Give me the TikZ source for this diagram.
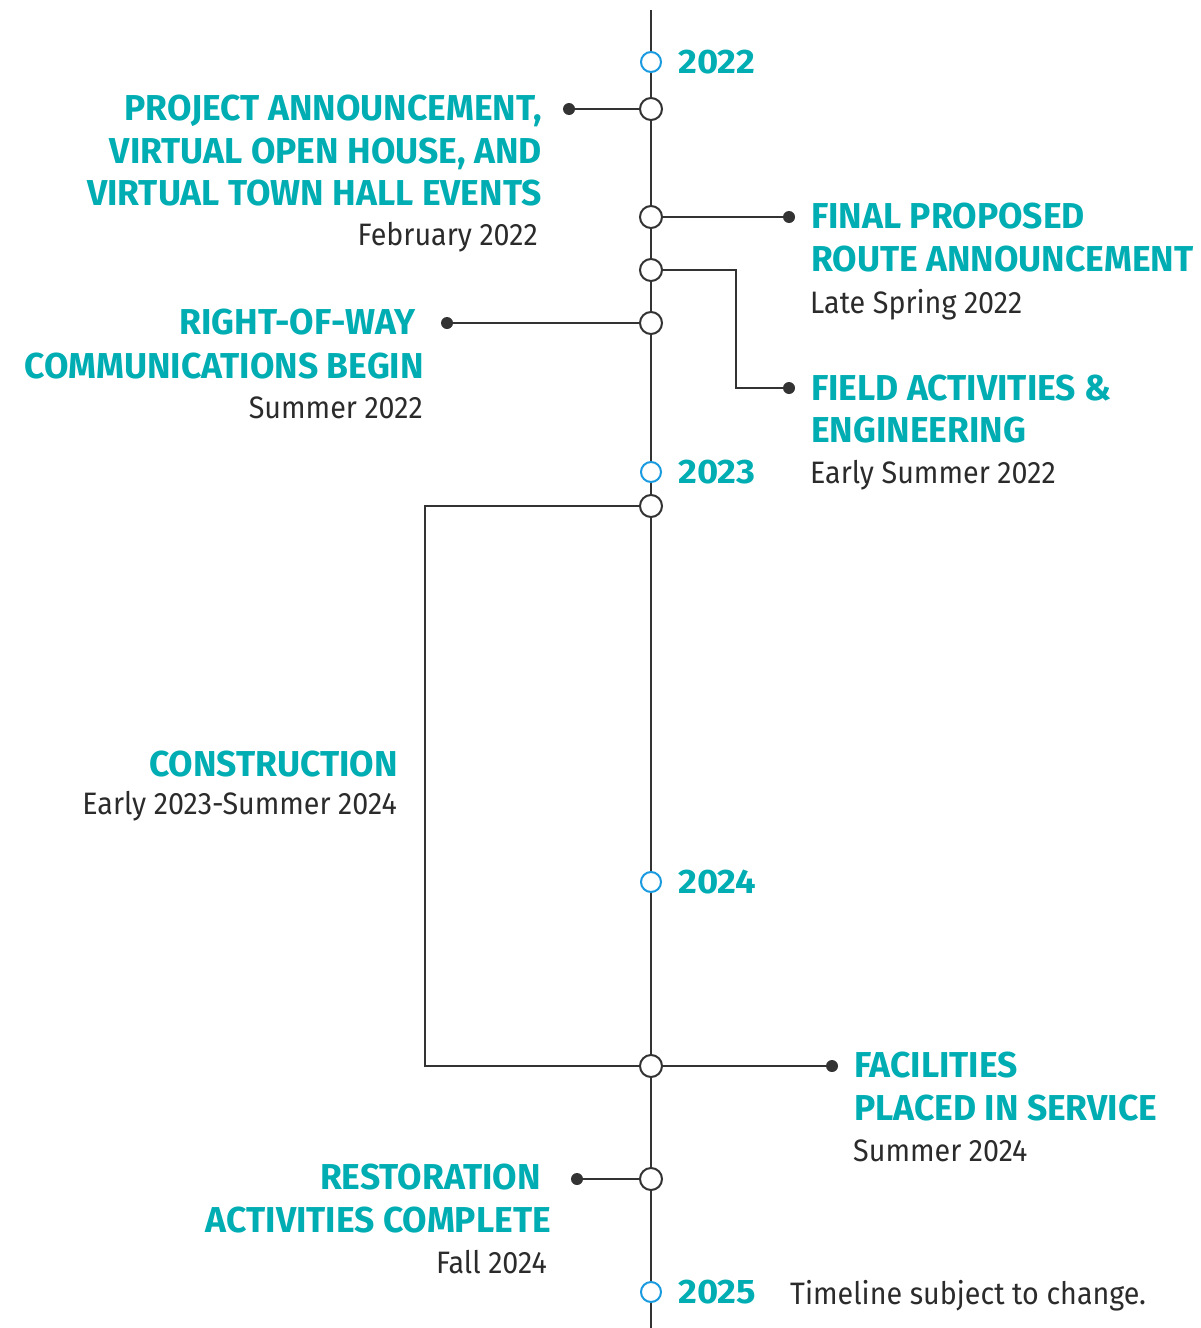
\documentclass[tikz,border=0pt]{standalone}
\usepackage{fontspec}
\setmainfont{Fira Sans}
\newfontfamily\headfont[FakeStretch=0.985]{Fira Sans Bold}
\newfontfamily\yearfont[FakeStretch=1.07]{Fira Sans Bold}
\newfontfamily\bodyfont[FakeStretch=0.925]{Fira Sans}
\definecolor{teal}{HTML}{00ADB2}
\definecolor{yearblue}{HTML}{1A9BE0}
\definecolor{linegrey}{HTML}{333333}
\definecolor{txtgrey}{HTML}{2B2B2B}
\begin{document}
\begin{tikzpicture}[x=1pt,y=-1pt,
  line/.style={draw=linegrey,line width=2pt},
  evt/.style={circle,draw=linegrey,line width=2pt,fill=white,minimum size=22pt,inner sep=0pt},
  yr/.style={circle,draw=yearblue,line width=2pt,fill=white,minimum size=20pt,inner sep=0pt},
  dot/.style={circle,fill=linegrey,minimum size=12pt,inner sep=0pt},
  head/.style={inner sep=0pt,text=teal,font=\headfont\fontsize{36}{43}\selectfont},
  yrtxt/.style={inner sep=0pt,text=teal,font=\yearfont\fontsize{34}{40}\selectfont},
  sub/.style={inner sep=0pt,text=txtgrey,font=\bodyfont\fontsize{31}{37}\selectfont}]
\useasboundingbox (0,0) rectangle (1200,1328);
% axis
\coordinate (top) at (651,10);
\coordinate (bot) at (651,1328);
\draw[line] (top) -- (bot);
% year markers
\node[yr] (y22) at (651,62) {};
\node[yr] (y23) at (651,472) {};
\node[yr] (y24) at (651,882) {};
\node[yr] (y25) at (651,1292) {};
\node[yrtxt,anchor=base west] (t22) at (678,73.5) {2022};
\node[yrtxt,anchor=base west] (t23) at (678,483.5) {2023};
\node[yrtxt,anchor=base west] (t24) at (678,893.5) {2024};
\node[yrtxt,anchor=base west] (t25) at (678,1303.5) {2025};
\node[sub,anchor=base west] (note) at (790,1304) {Timeline subject to change.};
% event markers
\node[evt] (e1) at (651,109) {};
\node[evt] (e2) at (651,217) {};
\node[evt] (e3) at (651,270) {};
\node[evt] (e4) at (651,323) {};
\node[evt] (e5) at (651,506) {};
\node[evt] (e6) at (651,1066) {};
\node[evt] (e7) at (651,1179) {};
% dots
\node[dot] (d1) at (569,109) {};
\node[dot] (d2) at (789,217) {};
\node[dot] (d3) at (789,388) {};
\node[dot] (d4) at (447,323) {};
\node[dot] (d6) at (832,1066) {};
\node[dot] (d7) at (577,1179) {};
\coordinate (c3) at (736,270);
\coordinate (c3b) at (736,388);
\coordinate (c5) at (425,506);
\coordinate (c5b) at (425,1066);
% connectors
\draw[line] (e1) -- (d1);
\draw[line] (e2) -- (d2);
\draw[line] (e3) -- (c3) -- (c3b) -- (d3);
\draw[line] (e4) -- (d4);
\draw[line] (e5) -- (c5) -- (c5b) -- (e6);
\draw[line] (e6) -- (d6);
\draw[line] (e7) -- (d7);
% labels
\node[head,anchor=base east] (l1a) at (542,120.5) {PROJECT ANNOUNCEMENT,};
\node[head,anchor=base east] (l1b) at (542,163.5) {VIRTUAL OPEN HOUSE, AND};
\node[head,anchor=base east] (l1c) at (542,205.5) {VIRTUAL TOWN HALL EVENTS};
\node[sub,anchor=base east] (s1) at (538,245) {February 2022};
\node[head,anchor=base west] (l2a) at (811,228.5) {FINAL PROPOSED};
\node[head,anchor=base west] (l2b) at (811,271.5) {ROUTE ANNOUNCEMENT};
\node[sub,anchor=base west] (s2) at (810,313) {Late Spring 2022};
\node[head,anchor=base east] (l4a) at (416,334.5) {RIGHT-OF-WAY};
\node[head,anchor=base east] (l4b) at (424,378.5) {COMMUNICATIONS BEGIN};
\node[sub,anchor=base east] (s4) at (423,418) {Summer 2022};
\node[head,anchor=base west] (l3a) at (811,400.5) {FIELD ACTIVITIES \&};
\node[head,anchor=base west] (l3b) at (811,442.5) {ENGINEERING};
\node[sub,anchor=base west] (s3) at (810,483) {Early Summer 2022};
\node[head,anchor=base east] (l5a) at (398,776.5) {CONSTRUCTION};
\node[sub,anchor=base east] (s5) at (397,814) {Early 2023-Summer 2024};
\node[head,anchor=base west] (l6a) at (854,1077.5) {FACILITIES};
\node[head,anchor=base west] (l6b) at (854,1120.5) {PLACED IN SERVICE};
\node[sub,anchor=base west] (s6) at (853,1161) {Summer 2024};
\node[head,anchor=base east] (l7a) at (541,1189.5) {RESTORATION};
\node[head,anchor=base east] (l7b) at (551,1232.5) {ACTIVITIES COMPLETE};
\node[sub,anchor=base east] (s7) at (547,1273) {Fall 2024};
\end{tikzpicture}
\end{document}
